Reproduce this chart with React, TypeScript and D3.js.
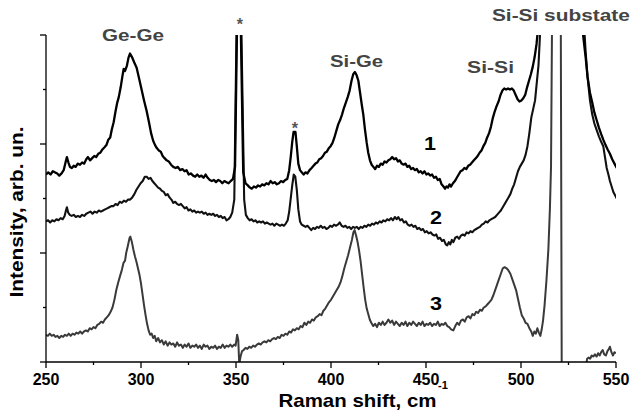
import React from "react";
import * as d3 from "d3";

// Raman shift (cm^-1), intensity (arb. un.)
const spectrum1: [number, number][] = [
  [250.0,1.72],[251.2,1.74],[252.4,1.72],[253.6,1.75],[254.7,1.74],[255.9,1.73],[257.0,1.71],[258.2,1.73],[259.3,1.76],[260.4,1.84],
  [261.0,1.88],[261.8,1.83],[262.6,1.79],[263.6,1.78],[264.6,1.80],[265.6,1.79],[266.7,1.82],[267.9,1.81],[269.0,1.83],[270.1,1.82],
  [271.2,1.86],[272.1,1.88],[273.2,1.85],[274.3,1.87],[275.4,1.89],[276.4,1.88],[277.5,1.91],[278.6,1.92],[279.7,1.95],[280.8,1.97],
  [281.8,1.99],[282.8,2.04],[283.8,2.06],[284.6,2.13],[285.6,2.20],[286.6,2.30],[287.5,2.38],[288.3,2.43],[289.3,2.52],[290.2,2.62],
  [290.9,2.69],[291.6,2.67],[292.6,2.72],[293.4,2.79],[294.2,2.83],[295.2,2.80],[296.4,2.75],[297.7,2.70],[299.0,2.60],[300.3,2.50],
  [301.6,2.40],[303.0,2.30],[304.2,2.20],[305.3,2.10],[306.4,2.03],[307.4,1.99],[308.4,1.96],[309.4,1.94],[310.4,1.93],[311.4,1.89],
  [312.4,1.87],[313.5,1.85],[314.6,1.84],[315.8,1.81],[317.0,1.79],[318.2,1.78],[319.4,1.79],[320.6,1.76],[321.8,1.77],[322.9,1.75],
  [324.0,1.76],[325.1,1.72],[326.2,1.73],[327.4,1.71],[328.5,1.70],[329.6,1.72],[330.7,1.70],[331.8,1.71],[332.9,1.69],[334.0,1.72],
  [335.1,1.69],[336.2,1.67],[337.3,1.66],[338.4,1.67],[339.5,1.65],[340.6,1.67],[341.7,1.66],[342.8,1.64],[343.9,1.66],[345.0,1.65],
  [346.1,1.64],[347.2,1.66],[348.4,1.68],[349.5,1.79],[350.8,3.4],[352.2,3.4],[353.8,1.74],[355.0,1.64],[356.2,1.62],[357.3,1.60],
  [358.3,1.59],[359.4,1.61],[360.5,1.60],[361.6,1.62],[362.7,1.61],[363.8,1.63],[364.9,1.62],[366.0,1.64],[367.1,1.63],[368.2,1.66],
  [369.3,1.64],[370.4,1.65],[371.5,1.63],[372.6,1.64],[373.7,1.66],[374.8,1.65],[375.9,1.67],[377.0,1.68],[378.0,1.76],[378.8,1.88],
  [379.6,2.02],[380.3,2.11],[381.3,2.11],[382.0,1.98],[382.8,1.82],[383.7,1.76],[384.6,1.74],[385.6,1.72],[386.6,1.74],[387.6,1.73],
  [388.7,1.76],[389.8,1.78],[390.8,1.80],[391.8,1.82],[392.8,1.83],[393.8,1.86],[394.8,1.87],[395.8,1.89],[396.8,1.92],[397.8,1.93],
  [398.8,1.96],[399.8,1.98],[400.8,2.01],[401.8,2.06],[402.8,2.12],[403.8,2.18],[404.8,2.22],[405.8,2.27],[406.8,2.33],[407.8,2.38],
  [408.8,2.43],[409.8,2.49],[410.8,2.58],[411.7,2.64],[412.6,2.66],[413.5,2.63],[414.4,2.58],[415.3,2.47],[416.2,2.36],[417.0,2.27],
  [417.9,2.13],[418.8,2.01],[419.6,1.92],[420.5,1.85],[421.4,1.81],[422.3,1.79],[423.2,1.77],[424.2,1.80],[425.2,1.79],[426.2,1.82],
  [427.2,1.81],[428.2,1.84],[429.2,1.83],[430.2,1.85],[431.2,1.86],[432.2,1.88],[433.2,1.86],[434.2,1.87],[435.2,1.84],[436.2,1.85],
  [437.2,1.82],[438.2,1.81],[439.2,1.82],[440.2,1.79],[441.2,1.80],[442.2,1.77],[443.2,1.78],[444.2,1.76],[445.2,1.77],[446.2,1.74],
  [447.2,1.75],[448.2,1.73],[449.2,1.75],[450.2,1.72],[451.2,1.73],[452.2,1.71],[453.2,1.72],[454.2,1.69],[455.2,1.70],[456.2,1.67],
  [457.2,1.68],[458.2,1.63],[459.2,1.61],[460.0,1.59],[460.8,1.61],[461.6,1.60],[462.4,1.63],[463.2,1.61],[464.2,1.64],[465.2,1.66],
  [466.2,1.69],[467.2,1.72],[468.2,1.75],[469.2,1.76],[470.2,1.78],[471.2,1.77],[472.2,1.80],[473.2,1.81],[474.2,1.83],[475.2,1.85],
  [476.2,1.87],[477.2,1.89],[478.2,1.92],[479.2,1.94],[480.2,1.98],[481.2,2.01],[482.2,2.06],[483.2,2.10],[484.2,2.16],[485.2,2.24],
  [486.2,2.30],[487.2,2.35],[488.2,2.39],[489.2,2.45],[490.2,2.49],[491.2,2.51],[492.2,2.50],[493.2,2.51],[494.2,2.50],[495.2,2.51],
  [496.2,2.49],[497.2,2.45],[498.2,2.41],[499.2,2.39],[500.2,2.40],[501.2,2.42],[502.2,2.45],[503.2,2.52],[504.2,2.58],[505.2,2.64],
  [506.2,2.71],[507.2,2.80],[508.2,2.92],[509.2,3.10],[510.2,3.35],[512.0,4.0],[520.0,12.0],[528.0,4.0],[530.0,3.6],[531.5,3.2],
  [533.0,2.95],[534.0,2.80],[535.0,2.62],[536.3,2.47],[537.5,2.38],[538.6,2.29],[539.8,2.22],[541.0,2.15],[542.2,2.09],[543.3,2.04],
  [544.5,1.99],[545.6,1.95],[546.8,1.91],[548.0,1.86],[549.2,1.82],[550.4,1.78],
];

const spectrum2: [number, number][] = [
  [250.0,1.29],[251.1,1.30],[252.2,1.28],[253.3,1.30],[254.4,1.29],[255.5,1.31],[256.6,1.30],[257.7,1.32],[258.8,1.31],[259.8,1.34],
  [260.5,1.39],[261.0,1.42],[261.7,1.37],[262.5,1.35],[263.5,1.34],[264.6,1.35],[265.7,1.33],[266.8,1.34],[267.9,1.33],[269.0,1.35],
  [270.1,1.34],[271.2,1.36],[272.3,1.37],[273.4,1.38],[274.5,1.36],[275.6,1.38],[276.7,1.37],[277.8,1.39],[278.9,1.38],[280.0,1.39],
  [281.1,1.40],[282.2,1.41],[283.3,1.42],[284.4,1.43],[285.5,1.43],[286.6,1.45],[287.7,1.44],[288.8,1.47],[289.9,1.46],[291.0,1.48],
  [292.1,1.47],[293.2,1.49],[294.3,1.49],[295.4,1.51],[296.5,1.54],[297.6,1.58],[298.7,1.61],[299.8,1.64],[300.9,1.66],[302.0,1.70],
  [303.0,1.70],[304.0,1.68],[305.0,1.69],[306.0,1.66],[307.0,1.64],[308.0,1.62],[309.0,1.60],[310.0,1.59],[311.0,1.57],[312.0,1.56],
  [313.0,1.53],[314.0,1.54],[315.0,1.51],[316.0,1.49],[317.0,1.46],[318.0,1.47],[319.0,1.45],[320.0,1.44],[321.0,1.45],[322.0,1.43],
  [323.0,1.41],[324.0,1.42],[325.0,1.39],[326.0,1.40],[327.0,1.38],[328.0,1.39],[329.0,1.37],[330.0,1.38],[331.0,1.37],[332.0,1.38],
  [333.0,1.36],[334.0,1.37],[335.0,1.35],[336.0,1.36],[337.0,1.35],[338.0,1.36],[339.0,1.34],[340.0,1.35],[341.0,1.33],[342.0,1.34],
  [343.0,1.32],[344.0,1.33],[345.0,1.30],[346.0,1.31],[347.0,1.33],[348.0,1.37],[349.1,1.49],[350.7,3.6],[352.3,3.6],[354.3,1.49],
  [355.2,1.35],[356.2,1.32],[357.2,1.30],[358.2,1.31],[359.2,1.29],[360.2,1.30],[361.2,1.28],[362.2,1.29],[363.2,1.28],[364.2,1.29],
  [365.2,1.27],[366.2,1.28],[367.2,1.27],[368.2,1.26],[369.2,1.27],[370.2,1.25],[371.2,1.27],[372.2,1.26],[373.2,1.25],[374.2,1.26],
  [375.2,1.25],[376.2,1.27],[377.2,1.30],[378.0,1.38],[378.8,1.50],[379.6,1.62],[380.4,1.72],[381.2,1.70],[382.0,1.58],[382.8,1.40],
  [383.7,1.29],[384.6,1.26],[385.6,1.25],[386.6,1.24],[387.6,1.25],[388.6,1.23],[389.6,1.21],[390.6,1.23],[391.6,1.22],[392.6,1.24],
  [393.6,1.23],[394.6,1.25],[395.6,1.23],[396.6,1.24],[397.6,1.22],[398.6,1.23],[399.6,1.25],[400.6,1.24],[401.6,1.26],[402.6,1.25],
  [403.6,1.26],[404.6,1.28],[405.6,1.25],[406.6,1.24],[407.6,1.25],[408.6,1.23],[409.6,1.24],[410.6,1.22],[411.6,1.24],[412.6,1.23],
  [413.6,1.24],[414.6,1.22],[415.6,1.24],[416.6,1.23],[417.6,1.25],[418.6,1.24],[419.6,1.26],[420.6,1.25],[421.6,1.27],[422.6,1.26],
  [423.6,1.28],[424.6,1.27],[425.6,1.29],[426.6,1.28],[427.6,1.30],[428.6,1.29],[429.6,1.31],[430.6,1.30],[431.6,1.32],[432.6,1.30],
  [433.6,1.33],[434.6,1.31],[435.4,1.33],[436.4,1.30],[437.4,1.31],[438.4,1.28],[439.4,1.29],[440.4,1.26],[441.4,1.25],[442.4,1.26],
  [443.4,1.24],[444.4,1.25],[445.4,1.22],[446.4,1.23],[447.4,1.21],[448.4,1.22],[449.4,1.19],[450.4,1.20],[451.4,1.18],[452.4,1.19],
  [453.4,1.17],[454.4,1.16],[455.4,1.17],[456.4,1.13],[457.4,1.14],[458.4,1.11],[459.4,1.12],[460.4,1.08],[461.2,1.07],[462.0,1.10],
  [462.8,1.08],[463.6,1.12],[464.4,1.10],[465.4,1.14],[466.4,1.15],[467.4,1.13],[468.4,1.16],[469.4,1.17],[470.4,1.16],[471.4,1.19],
  [472.4,1.18],[473.4,1.20],[474.4,1.19],[475.4,1.21],[476.4,1.22],[477.4,1.23],[478.4,1.24],[479.4,1.26],[480.4,1.27],[481.4,1.29],
  [482.4,1.28],[483.4,1.30],[484.4,1.31],[485.4,1.32],[486.4,1.33],[487.4,1.35],[488.4,1.37],[489.4,1.39],[490.4,1.42],[491.4,1.45],
  [492.4,1.48],[493.4,1.51],[494.4,1.54],[495.4,1.59],[496.4,1.63],[497.4,1.69],[498.4,1.75],[499.4,1.79],[500.4,1.82],[501.4,1.85],
  [502.4,1.90],[503.4,1.98],[504.4,2.10],[505.4,2.24],[506.4,2.32],[507.4,2.40],[508.4,2.58],[509.2,2.72],[510.0,3.00],[511.0,3.3],
  [520.0,11.0],[531.5,3.5],[533.0,3.15],[534.0,2.85],[535.0,2.62],[536.3,2.40],[537.5,2.27],[538.6,2.19],[539.8,2.13],[541.0,2.07],
  [542.2,2.02],[543.3,1.98],[544.2,1.88],[545.1,1.78],[546.0,1.72],[546.8,1.66],[547.7,1.61],[548.6,1.56],[549.5,1.53],[550.4,1.50],
];

const spectrum3: [number, number][] = [
  [250.0,0.25],[251.0,0.24],[252.0,0.26],[253.0,0.24],[254.0,0.25],[255.0,0.23],[256.0,0.24],[257.0,0.22],[258.0,0.24],[259.0,0.23],
  [260.0,0.25],[261.0,0.24],[262.0,0.26],[263.0,0.24],[264.0,0.26],[265.0,0.25],[266.0,0.27],[267.0,0.26],[268.0,0.28],[269.0,0.26],
  [270.0,0.28],[271.0,0.29],[272.0,0.28],[273.0,0.31],[274.0,0.30],[275.0,0.32],[276.0,0.31],[277.0,0.34],[278.0,0.35],[279.0,0.37],
  [280.0,0.36],[281.0,0.39],[282.0,0.41],[283.0,0.43],[284.0,0.46],[285.0,0.50],[286.0,0.57],[287.0,0.66],[288.0,0.73],[289.0,0.79],
  [290.0,0.85],[290.8,0.91],[291.6,0.93],[292.2,1.00],[293.0,1.06],[294.0,1.14],[294.4,1.15],[295.2,1.10],[296.0,1.03],[296.8,0.97],
  [297.6,0.92],[298.4,0.86],[299.2,0.80],[300.0,0.72],[300.8,0.62],[301.6,0.52],[302.4,0.43],[303.2,0.35],[304.0,0.29],[304.8,0.25],
  [305.6,0.26],[306.4,0.22],[307.2,0.24],[308.0,0.19],[309.0,0.22],[310.0,0.18],[311.0,0.20],[312.0,0.16],[313.0,0.19],[314.0,0.15],
  [315.0,0.18],[316.0,0.16],[317.0,0.17],[318.0,0.14],[319.0,0.18],[320.0,0.15],[321.0,0.16],[322.0,0.13],[323.0,0.16],[324.0,0.14],
  [325.0,0.17],[326.0,0.13],[327.0,0.15],[328.0,0.14],[329.0,0.16],[330.0,0.13],[331.0,0.15],[332.0,0.12],[333.0,0.16],[334.0,0.14],
  [335.0,0.15],[336.0,0.12],[337.0,0.14],[338.0,0.13],[339.0,0.15],[340.0,0.12],[341.0,0.14],[342.0,0.13],[343.0,0.16],[344.0,0.13],
  [345.0,0.15],[346.0,0.14],[347.0,0.16],[348.0,0.14],[349.0,0.16],[349.8,0.15],[350.6,0.25],[351.2,0.20],[351.7,-0.02],[352.4,0.05],
  [353.2,0.10],[354.0,0.11],[355.0,0.13],[356.0,0.12],[357.0,0.14],[358.0,0.13],[359.0,0.15],[360.0,0.14],[361.0,0.16],[362.0,0.17],
  [363.0,0.16],[364.0,0.18],[365.0,0.19],[366.0,0.18],[367.0,0.20],[368.0,0.19],[369.0,0.21],[370.0,0.22],[371.0,0.21],[372.0,0.23],
  [373.0,0.22],[374.0,0.25],[375.0,0.24],[376.0,0.26],[377.0,0.25],[378.0,0.28],[379.0,0.27],[380.0,0.30],[381.0,0.29],[382.0,0.31],
  [383.0,0.30],[384.0,0.33],[385.0,0.32],[386.0,0.36],[387.0,0.34],[388.0,0.37],[389.0,0.36],[390.0,0.39],[391.0,0.38],[392.0,0.41],
  [393.0,0.42],[394.0,0.44],[395.0,0.43],[396.0,0.47],[397.0,0.49],[398.0,0.52],[399.0,0.55],[400.0,0.57],[401.0,0.60],[402.0,0.63],
  [403.0,0.66],[404.0,0.69],[405.0,0.73],[406.0,0.79],[407.0,0.86],[408.0,0.92],[409.0,0.98],[410.0,1.05],[411.0,1.12],[411.8,1.19],
  [412.4,1.21],[413.2,1.16],[414.0,1.10],[414.8,1.02],[415.6,0.92],[416.4,0.80],[417.2,0.68],[418.0,0.57],[418.8,0.49],[419.6,0.44],
  [420.4,0.39],[421.2,0.36],[422.2,0.33],[423.2,0.35],[424.2,0.32],[425.2,0.36],[426.2,0.34],[427.2,0.37],[428.2,0.34],[429.2,0.36],
  [430.2,0.39],[431.2,0.36],[432.2,0.38],[433.2,0.34],[434.2,0.37],[435.2,0.35],[436.2,0.33],[437.2,0.36],[438.2,0.34],[439.2,0.37],
  [440.2,0.33],[441.2,0.36],[442.2,0.34],[443.2,0.37],[444.2,0.35],[445.2,0.33],[446.2,0.36],[447.2,0.34],[448.2,0.37],[449.2,0.33],
  [450.2,0.35],[451.2,0.34],[452.2,0.36],[453.2,0.33],[454.2,0.35],[455.2,0.34],[456.2,0.37],[457.2,0.33],[458.2,0.35],[459.2,0.34],
  [460.2,0.36],[461.2,0.33],[462.2,0.32],[463.2,0.30],[464.4,0.29],[465.4,0.33],[466.4,0.36],[467.4,0.34],[468.4,0.38],[469.4,0.39],
  [470.4,0.37],[471.4,0.41],[472.4,0.42],[473.4,0.40],[474.4,0.44],[475.4,0.43],[476.4,0.46],[477.4,0.45],[478.4,0.48],[479.4,0.47],
  [480.4,0.50],[481.4,0.51],[482.4,0.53],[483.4,0.55],[484.4,0.57],[485.4,0.61],[486.4,0.66],[487.4,0.71],[488.4,0.76],[489.4,0.81],
  [490.4,0.86],[491.4,0.87],[492.4,0.86],[493.4,0.84],[494.4,0.81],[495.4,0.76],[496.4,0.71],[497.4,0.66],[498.4,0.58],[499.4,0.50],
  [500.4,0.43],[501.4,0.40],[502.4,0.36],[503.4,0.35],[504.4,0.31],[505.4,0.28],[506.2,0.24],[507.0,0.28],[507.8,0.26],[508.6,0.31],
  [509.4,0.27],[510.2,0.24],[510.9,0.30],[511.6,0.38],[512.4,0.52],[513.4,0.75],[514.4,1.03],[515.2,1.40],[515.8,1.79],[517.5,6.0],
  [520.5,6.0],[521.5,-0.5],[528.0,-0.5],[534.4,-0.02],[534.8,0.03],[535.6,0.04],[536.4,0.03],[537.2,0.06],[538.0,0.05],[538.9,0.07],
  [539.8,0.05],[540.6,0.08],[541.4,0.06],[542.2,0.09],[543.0,0.11],[543.8,0.07],[544.7,0.06],[545.5,0.10],[546.3,0.12],[546.8,0.14],
  [547.6,0.09],[548.4,0.06],[549.2,0.09],[550.0,0.08],
];

const xTicks = [250, 275, 300, 325, 350, 375, 400, 425, 450, 475, 500, 525, 550];
const xTickLabels = ["250", "", "300", "", "350", "", "400", "", "450", "", "500", "", "550"];
const yTicks = [0, 0.5, 1, 1.5, 2, 2.5, 3];

const peakLabels = [
  { text: "Ge-Ge", x: 279.5, y: 2.945, len: 62 },
  { text: "Si-Ge", x: 399.5, y: 2.71, len: 53 },
  { text: "Si-Si", x: 471.6, y: 2.647, len: 47 },
  { text: "Si-Si substate", x: 484.7, y: 3.124, len: 138 },
];
const starLabels = [
  { x: 352.1, y: 3.046 },
  { x: 381.0, y: 2.096 },
];
const curveLabels = [
  { text: "1", x: 452.1, y: 1.945 },
  { text: "2", x: 455.3, y: 1.27 },
  { text: "3", x: 455.3, y: 0.477 },
];

const W = 631, H = 412;
const M = { left: 46, right: 616, top: 35, bottom: 362 };

export default function App() {
  const x = d3.scaleLinear().domain([250, 550]).range([M.left, M.right]);
  const y = d3.scaleLinear().domain([0, 3]).range([M.bottom, M.top]);
  const line = d3.line<[number, number]>().x(d => x(d[0])).y(d => y(d[1]));
  const font = "'Liberation Sans', Arial, sans-serif";
  return (
    <svg width={W} height={H} style={{ position: "absolute", left: 0, top: 0, background: "#fff" }}
      fontFamily={font} fontWeight="bold">
      <defs>
        <clipPath id="plotclip">
          <rect x={M.left} y={M.top} width={M.right - M.left} height={M.bottom - M.top} />
        </clipPath>
      </defs>
      <g clipPath="url(#plotclip)" fill="none" strokeLinejoin="round">
        <path d={line(spectrum3) || ""} stroke="#3a3a3a" strokeWidth={2} />
        <path d={line(spectrum2) || ""} stroke="#111" strokeWidth={2.1} />
        <path d={line(spectrum1) || ""} stroke="#000" strokeWidth={2.3} />
      </g>
      {/* axes */}
      <g stroke="#000" strokeWidth={1.3}>
        <line x1={M.left} x2={M.left} y1={M.top} y2={M.bottom} />
        <line x1={M.left} x2={M.right} y1={M.bottom} y2={M.bottom} />
        {yTicks.map((t, i) => (
          <line key={"yt" + i} x1={M.left - (Number.isInteger(t) ? 6 : 3)} x2={M.left} y1={y(t)} y2={y(t)} />
        ))}
        {xTicks.map((t, i) => (
          <line key={"xt" + i} x1={x(t)} x2={x(t)} y1={M.bottom} y2={M.bottom + (xTickLabels[i] ? 6 : 3)} />
        ))}
      </g>
      {xTicks.map((t, i) => xTickLabels[i] ? (
        <text key={"xl" + i} x={x(t)} y={385} textAnchor="middle" fontSize={16} fill="#000">{xTickLabels[i]}</text>
      ) : null)}
      <text x={278.5} y={406.5} fontSize={19} textLength={158} lengthAdjust="spacingAndGlyphs" fill="#000">Raman shift, cm</text>
      <text x={438} y={389} fontSize={11} fill="#000">-1</text>
      <text transform="translate(22.5,212) rotate(-90)" textAnchor="middle" fontSize={19}
        textLength={171} lengthAdjust="spacingAndGlyphs" fill="#000">
        Intensity, arb. un.
      </text>
      {peakLabels.map((p, i) => (
        <text key={"pl" + i} x={x(p.x)} y={y(p.y)} fontSize={17} textLength={p.len}
          lengthAdjust="spacingAndGlyphs" fill="#444">{p.text}</text>
      ))}
      {starLabels.map((s, i) => (
        <text key={"sl" + i} x={x(s.x)} y={y(s.y)} textAnchor="middle" fontSize={16} fill="#555">*</text>
      ))}
      {curveLabels.map((c, i) => (
        <text key={"cl" + i} x={x(c.x)} y={y(c.y)} textAnchor="middle" fontSize={18} textLength={12}
          lengthAdjust="spacingAndGlyphs" fill="#000">{c.text}</text>
      ))}
    </svg>
  );
}
